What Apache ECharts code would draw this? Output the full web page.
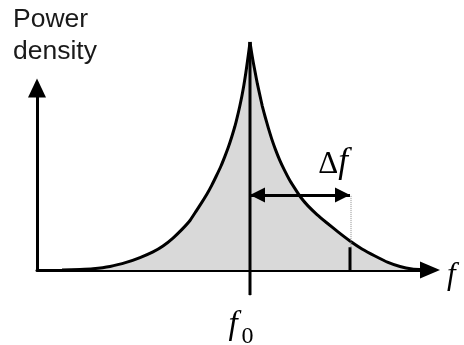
<!DOCTYPE html>
<html>
<head>
<meta charset="utf-8">
<script src="https://cdn.jsdelivr.net/npm/echarts@6/dist/echarts.min.js"></script>
<style>
  html, body { margin: 0; padding: 0; background: #fff; }
  #chart { width: 464px; height: 345px; }
</style>
</head>
<body>
<div id="chart"></div>
<script>
// Line-shape of the spectrum around the carrier f0.
// Frequency is measured from f0 in units of the marked width Δf; density is normalised to the peak.
const leftFreq = [-1.88, -1.70, -1.57, -1.40, -1.23, -1.10, -0.97, -0.87, -0.77, -0.68,
                  -0.60, -0.54, -0.485, -0.43, -0.383, -0.337, -0.29, -0.253, -0.216, -0.183,
                  -0.153, -0.127, -0.104, -0.081, -0.061, -0.042, -0.025, -0.01, 0];
const leftDensity = [0, 0.002, 0.005, 0.015, 0.034, 0.054, 0.079, 0.105, 0.140, 0.178,
                     0.217, 0.257, 0.294, 0.333, 0.371, 0.412, 0.456, 0.496, 0.539, 0.583,
                     0.627, 0.671, 0.715, 0.763, 0.811, 0.864, 0.917, 0.965, 1.0];
const rightFreq = [0, 0.015, 0.032, 0.053, 0.074, 0.098, 0.123, 0.152, 0.183, 0.217,
                   0.254, 0.297, 0.343, 0.393, 0.445, 0.505, 0.58, 0.67, 0.77, 0.88,
                   1.00, 1.12, 1.25, 1.38, 1.50, 1.62, 1.74];
const rightDensity = [1.0, 0.956, 0.912, 0.864, 0.816, 0.768, 0.719, 0.671, 0.623, 0.575,
                      0.529, 0.482, 0.439, 0.397, 0.360, 0.320, 0.281, 0.243, 0.206, 0.167,
                      0.127, 0.092, 0.061, 0.033, 0.015, 0.004, 0];

const centreFreq   = 0;      // f0
const peakDensity  = 1.0;
const f0TickBottom = -0.11;  // the f0 marker runs a little below the frequency axis
const deltaF       = 1;      // width marked by the arrow
const arrowLevel   = 0.329;  // height of the Δf arrow
const markerTop    = 0.10;   // top of the solid marker at f0 + Δf

const freqRange    = [-2.13, 1.80];
const densityRange = [f0TickBottom, 1.0];

const INK  = '#000000';
const FILL = '#d9d9d9';
const SERIF = '"Liberation Serif", "DejaVu Serif", serif';

const zip = (xs, ys) => xs.map((x, i) => [x, ys[i]]);

const chart = echarts.init(document.getElementById('chart'), null, { renderer: 'canvas' });

const curveSeries = (data) => ({
  type: 'line',
  xAxisIndex: 0,
  yAxisIndex: 0,
  data: data,
  smooth: 0.15,
  symbol: 'none',
  silent: true,
  lineStyle: { color: INK, width: 3, join: 'miter', miterLimit: 20 },
  areaStyle: { color: FILL, opacity: 1 },
  z: 2
});

const segment = (data, style, z) => ({
  type: 'line',
  xAxisIndex: 0,
  yAxisIndex: 0,
  data: data,
  symbol: 'none',
  silent: true,
  lineStyle: style,
  z: z
});

chart.setOption({
  animation: false,
  backgroundColor: '#ffffff',
  grid: [
    // frequency axis and the spectrum
    { left: 37, right: 34, top: 42, bottom: 50 },
    // density axis
    { left: 37, right: 34, top: 88, bottom: 75 }
  ],
  xAxis: [
    {
      gridIndex: 0,
      type: 'value',
      min: freqRange[0],
      max: freqRange[1],
      name: 'f',
      nameLocation: 'end',
      nameGap: 17,
      nameTextStyle: {
        fontFamily: SERIF,
        fontStyle: 'italic',
        fontSize: 31,
        color: INK,
        verticalAlign: 'top',
        lineHeight: 11
      },
      axisLine: {
        show: true,
        onZero: true,
        symbol: ['none', 'triangle'],
        symbolSize: [17, 20],
        lineStyle: { color: INK, width: 3 }
      },
      axisTick: { show: false },
      axisLabel: { show: false },
      splitLine: { show: false }
    },
    {
      gridIndex: 1,
      type: 'value',
      min: 0,
      max: 1,
      show: false
    }
  ],
  yAxis: [
    {
      gridIndex: 0,
      type: 'value',
      min: densityRange[0],
      max: densityRange[1],
      show: false
    },
    {
      gridIndex: 1,
      type: 'value',
      min: 0,
      max: 1,
      axisLine: {
        show: true,
        symbol: ['none', 'triangle'],
        symbolSize: [18, 19],
        lineStyle: { color: INK, width: 3 }
      },
      axisTick: { show: false },
      axisLabel: { show: false },
      splitLine: { show: false }
    }
  ],
  graphic: [
    {
      type: 'text',
      left: 13,
      top: 4,
      style: {
        text: 'Power\ndensity',
        font: '26.5px "Liberation Sans"',
        lineHeight: 32,
        fill: '#1a1a1a'
      }
    }
  ],
  series: [
    curveSeries(zip(leftFreq, leftDensity)),
    curveSeries(zip(rightFreq, rightDensity)),
    // solid marker at f0 + Δf
    segment([[deltaF, 0], [deltaF, markerTop]], { color: INK, width: 3 }, 4),
    // dotted guide up to the arrow
    segment([[deltaF + 0.01, markerTop], [deltaF + 0.01, arrowLevel]],
            { color: '#8a8a8a', width: 1, type: 'dotted' }, 4),
    // vertical line through the centre frequency, labelled f0
    {
      type: 'line',
      xAxisIndex: 0,
      yAxisIndex: 0,
      symbol: 'none',
      silent: true,
      clip: false,
      lineStyle: { color: INK, width: 3 },
      z: 5,
      data: [
        [centreFreq, peakDensity],
        {
          value: [centreFreq, f0TickBottom],
          symbol: 'circle',
          symbolSize: 1,
          itemStyle: { color: INK },
          label: {
            show: true,
            position: 'bottom',
            distance: 13,
            offset: [-9, 0],
            formatter: '{f|f}{s|0}',
            rich: {
              f: {
                fontFamily: SERIF,
                fontStyle: 'italic',
                fontSize: 33,
                color: INK,
                verticalAlign: 'bottom',
                padding: [0, 0, 7, 0]
              },
              s: {
                fontFamily: SERIF,
                fontSize: 24,
                color: INK,
                verticalAlign: 'bottom',
                padding: [0, 0, 0, 4]
              }
            }
          }
        }
      ],
      // double-headed arrow spanning Δf
      markLine: {
        silent: true,
        symbol: ['triangle', 'triangle'],
        symbolSize: [15, 15],
        symbolOffset: [[0, 7.5], [0, 7.5]],
        lineStyle: { color: INK, width: 3, type: 'solid' },
        label: {
          show: true,
          position: 'insideEndTop',
          distance: [2, 15],
          formatter: '{d|Δ}{f|f}',
          rich: {
            d: {
              fontFamily: SERIF,
              fontSize: 31,
              color: INK,
              verticalAlign: 'bottom'
            },
            f: {
              fontFamily: SERIF,
              fontStyle: 'italic',
              fontSize: 35,
              color: INK,
              verticalAlign: 'bottom'
            }
          }
        },
        data: [
          [
            { coord: [centreFreq, arrowLevel] },
            { coord: [centreFreq + deltaF, arrowLevel] }
          ]
        ]
      }
    }
  ]
});
</script>
</body>
</html>
